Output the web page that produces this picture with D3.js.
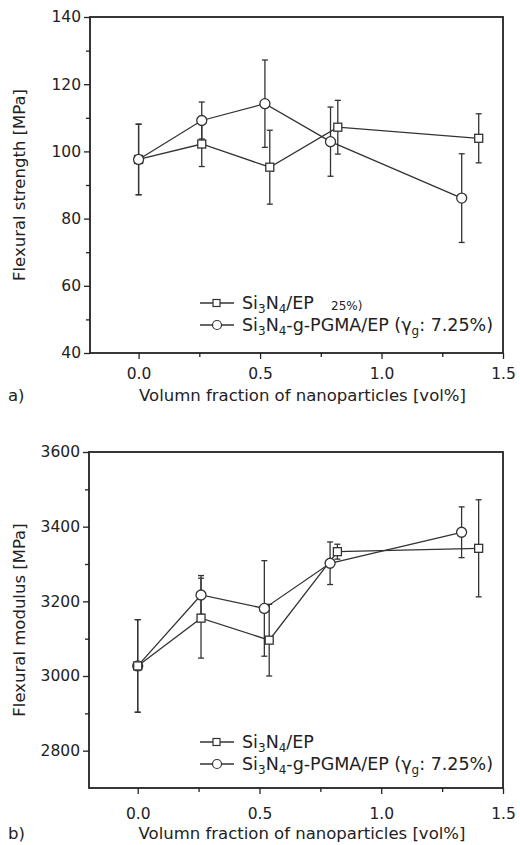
<!DOCTYPE html>
<html>
<head>
<meta charset="utf-8">
<script src="https://cdn.jsdelivr.net/npm/d3@7"></script>
<style>
  body { margin: 0; background: #fff; }
  svg text { font-family: "DejaVu Sans", sans-serif; fill: #222; }
</style>
</head>
<body>
<div id="chart"></div>
<script>
// volume fraction positions
var fracSquare = [0, 0.26, 0.54, 0.82, 1.40];
var fracCircle = [0, 0.26, 0.52, 0.79, 1.33];

// a) flexural strength [MPa]
var strengthSquare = [97.6, 102.2, 95.3, 107.2, 103.9];
var strengthSquareErr = [10.5, 6.7, 11.0, 8.0, 7.3];
var strengthCircle = [97.6, 109.2, 114.2, 102.9, 86.1];
var strengthCircleErr = [10.5, 5.5, 13.0, 10.3, 13.2];

// b) flexural modulus [MPa]
var modulusSquare = [3027, 3155, 3096, 3333, 3342];
var modulusSquareErr = [124, 107, 96, 20, 130];
var modulusCircle = [3027, 3217, 3181, 3302, 3385];
var modulusCircleErr = [124, 52, 128, 57, 68];

var xTicks = [0, 0.5, 1.0, 1.5];
var xMinor = [0.25, 0.75, 1.25];
var strengthTicks = [40, 60, 80, 100, 120, 140];
var strengthMinor = [50, 70, 90, 110, 130];
var modulusTicks = [2800, 3000, 3200, 3400, 3600];
var modulusMinor = [2900, 3100, 3300, 3500];

var svg = d3.select("#chart").append("svg")
    .attr("width", 520)
    .attr("height", 845);

function series(xs, ys, es) {
    return xs.map(function (x, i) { return {x: x, y: ys[i], e: es[i]}; });
}

function drawPanel(p) {
    var x = d3.scaleLinear().domain([-0.2, 1.5]).range([p.left, p.right]);
    var y = d3.scaleLinear().domain(p.yDomain).range([p.bottom, p.top]);
    var g = svg.append("g");

    // axes (ticks only, frame drawn separately)
    g.append("g").attr("transform", "translate(0," + p.bottom + ")")
        .call(d3.axisBottom(x).tickValues(xTicks).tickFormat(d3.format(".1f")).tickSize(6).tickPadding(p.xPad));
    g.append("g").attr("transform", "translate(0," + p.bottom + ")")
        .call(d3.axisBottom(x).tickValues(xMinor).tickFormat("").tickSize(4));
    g.append("g").attr("transform", "translate(" + p.left + ",0)")
        .call(d3.axisLeft(y).tickValues(p.yTicks).tickFormat(d3.format("d")).tickSize(6).tickPadding(3));
    g.append("g").attr("transform", "translate(" + p.left + ",0)")
        .call(d3.axisLeft(y).tickValues(p.yMinor).tickFormat("").tickSize(4));
    g.selectAll(".domain").remove();
    g.selectAll(".tick line").attr("stroke", "#222").attr("stroke-width", 1.3);
    g.selectAll(".tick text").style("font-size", "15.5px").attr("fill", "#222");

    g.append("rect")
        .attr("x", p.left).attr("y", p.top)
        .attr("width", p.right - p.left).attr("height", p.bottom - p.top)
        .attr("fill", "none").attr("stroke", "#222").attr("stroke-width", 1.8);

    // axis titles
    g.append("text")
        .attr("transform", "translate(" + p.yTitleX + "," + ((p.top + p.bottom) / 2) + ") rotate(-90)")
        .attr("text-anchor", "middle")
        .style("font-size", "16.5px")
        .text(p.yTitle);
    g.append("text")
        .attr("x", (p.left + p.right) / 2 + 6).attr("y", p.xTitleY)
        .attr("text-anchor", "middle")
        .style("font-size", "16.5px")
        .text("Volumn fraction of nanoparticles [vol%]");
    g.append("text")
        .attr("x", 8).attr("y", p.xTitleY)
        .style("font-size", "16.5px")
        .text(p.tag);

    var line = d3.line().x(function (d) { return x(d.x); }).y(function (d) { return y(d.y); });
    var sets = p.order.map(function (k) { return p[k]; });

    sets.forEach(function (s) {
        g.append("path").datum(s.data).attr("d", line)
            .attr("fill", "none").attr("stroke", "#333").attr("stroke-width", 1.3);
        var eb = g.selectAll(null).data(s.data).enter().append("g").attr("stroke", "#333").attr("stroke-width", 1.3);
        eb.append("line")
            .attr("x1", function (d) { return x(d.x); }).attr("x2", function (d) { return x(d.x); })
            .attr("y1", function (d) { return y(d.y - d.e); }).attr("y2", function (d) { return y(d.y + d.e); });
        eb.append("line")
            .attr("x1", function (d) { return x(d.x) - 3; }).attr("x2", function (d) { return x(d.x) + 3; })
            .attr("y1", function (d) { return y(d.y + d.e); }).attr("y2", function (d) { return y(d.y + d.e); });
        eb.append("line")
            .attr("x1", function (d) { return x(d.x) - 3; }).attr("x2", function (d) { return x(d.x) + 3; })
            .attr("y1", function (d) { return y(d.y - d.e); }).attr("y2", function (d) { return y(d.y - d.e); });
    });
    sets.forEach(function (s) {
        var m = g.selectAll(null).data(s.data).enter();
        if (s.shape === "square") {
            m.append("rect")
                .attr("x", function (d) { return x(d.x) - 4; }).attr("y", function (d) { return y(d.y) - 4; })
                .attr("width", 8).attr("height", 8)
                .attr("fill", "#fff").attr("stroke", "#333").attr("stroke-width", 1.3);
        } else {
            m.append("circle")
                .attr("cx", function (d) { return x(d.x); }).attr("cy", function (d) { return y(d.y); })
                .attr("r", 5)
                .attr("fill", "#fff").attr("stroke", "#333").attr("stroke-width", 1.3);
        }
    });

    // legend
    var rows = [
        {shape: "square", y: p.legendY},
        {shape: "circle", y: p.legendY + 22}
    ];
    rows.forEach(function (r) {
        var lg = g.append("g");
        lg.append("line").attr("x1", 200).attr("x2", 234).attr("y1", r.y).attr("y2", r.y)
            .attr("stroke", "#333").attr("stroke-width", 1.3);
        if (r.shape === "square") {
            lg.append("rect").attr("x", 213).attr("y", r.y - 3.5).attr("width", 7).attr("height", 7)
                .attr("fill", "#fff").attr("stroke", "#333").attr("stroke-width", 1.2);
        } else {
            lg.append("circle").attr("cx", 217).attr("cy", r.y).attr("r", 4.5)
                .attr("fill", "#fff").attr("stroke", "#333").attr("stroke-width", 1.2);
        }
        var t = lg.append("text").attr("x", 242).attr("y", r.y + 6).style("font-size", "17.5px");
        t.append("tspan").text("Si");
        t.append("tspan").attr("dy", 4).style("font-size", "12px").text("3");
        t.append("tspan").attr("dy", -4).text("N");
        t.append("tspan").attr("dy", 4).style("font-size", "12px").text("4");
        if (r.shape === "square") {
            t.append("tspan").attr("dy", -4).text("/EP");
        } else {
            t.append("tspan").attr("dy", -4).text("-g-PGMA/EP (γ");
            t.append("tspan").attr("dy", 4).style("font-size", "12px").text("g");
            t.append("tspan").attr("dy", -4).text(": 7.25%)");
        }
    });
    if (p.stray) {
        g.append("text").attr("x", 331).attr("y", p.legendY + 7)
            .style("font-size", "12px").text(p.stray);
    }
}

drawPanel({
    left: 90, right: 503, top: 17, bottom: 353,
    yDomain: [40, 140], yTicks: strengthTicks, yMinor: strengthMinor,
    xPad: 9, yTitleX: 25, xTitleY: 401, tag: "a)",
    yTitle: "Flexural strength [MPa]",
    legendY: 303, stray: "25%)",
    order: ["sq", "ci"],
    sq: {shape: "square", data: series(fracSquare, strengthSquare, strengthSquareErr)},
    ci: {shape: "circle", data: series(fracCircle, strengthCircle, strengthCircleErr)}
});

drawPanel({
    left: 89, right: 503, top: 452, bottom: 788,
    yDomain: [2700, 3600], yTicks: modulusTicks, yMinor: modulusMinor,
    xPad: 14, yTitleX: 25, xTitleY: 839, tag: "b)",
    yTitle: "Flexural modulus [MPa]",
    legendY: 742, stray: null,
    order: ["ci", "sq"],
    sq: {shape: "square", data: series(fracSquare, modulusSquare, modulusSquareErr)},
    ci: {shape: "circle", data: series(fracCircle, modulusCircle, modulusCircleErr)}
});
</script>
</body>
</html>
